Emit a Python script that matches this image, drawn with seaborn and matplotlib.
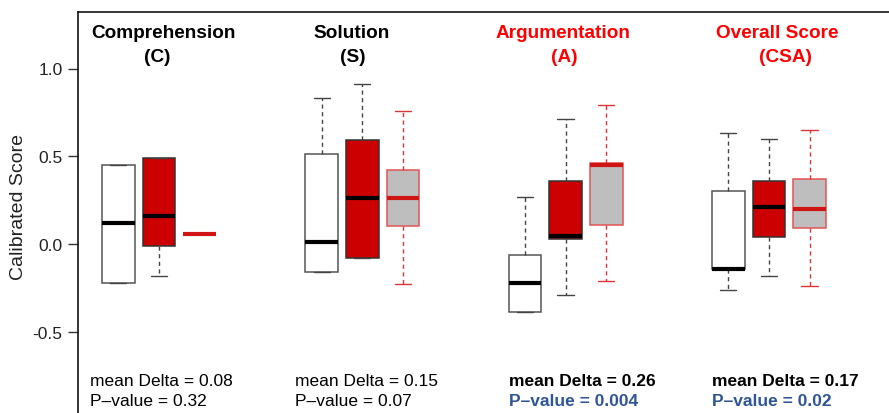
import matplotlib
matplotlib.use("Agg")
import pandas as pd
import matplotlib.pyplot as plt
import seaborn as sns

# categories and box levels
groups = ["Comprehension", "Solution", "Argumentation", "Overall Score"]
levels = ["first", "second", "third"]

# five-number summaries: min, q1, median, q3, max
comp_first = [-0.22, -0.22, 0.12, 0.45, 0.45]
comp_second = [-0.18, -0.01, 0.16, 0.49, 0.49]
comp_third = [0.057, 0.057, 0.057, 0.057, 0.057]
sol_first = [-0.16, -0.16, 0.01, 0.51, 0.83]
sol_second = [-0.08, -0.08, 0.26, 0.59, 0.91]
sol_third = [-0.23, 0.10, 0.26, 0.42, 0.76]
arg_first = [-0.39, -0.39, -0.22, -0.06, 0.27]
arg_second = [-0.29, 0.03, 0.045, 0.36, 0.71]
arg_third = [-0.21, 0.11, 0.45, 0.46, 0.79]
csa_first = [-0.26, -0.14, -0.14, 0.30, 0.63]
csa_second = [-0.18, 0.04, 0.21, 0.36, 0.60]
csa_third = [-0.24, 0.09, 0.20, 0.37, 0.65]

titles = ["Comprehension", "Solution", "Argumentation", "Overall Score"]
subtitles = ["(C)", "(S)", "(A)", "(CSA)"]
deltas = ["0.08", "0.15", "0.26", "0.17"]
pvalues = ["0.32", "0.07", "0.004", "0.02"]
significant = [False, False, True, True]

series = {
    "Comprehension": [comp_first, comp_second, comp_third],
    "Solution": [sol_first, sol_second, sol_third],
    "Argumentation": [arg_first, arg_second, arg_third],
    "Overall Score": [csa_first, csa_second, csa_third],
}
rows = []
for g in groups:
    for lev, vals in zip(levels, series[g]):
        for v in vals:
            rows.append({"group": g, "level": lev, "score": v})
df = pd.DataFrame(rows)

sns.set_theme(style="ticks")
plt.rcParams["font.family"] = ["Liberation Sans", "DejaVu Sans"]
plt.rcParams["axes.unicode_minus"] = False

W, H = 889, 414
fig = plt.figure(figsize=(W / 100, H / 100), dpi=100)
top_px, bot_px, left_px, right_px = 12.7, 440, 78, 910
ax = fig.add_axes([left_px / W, 1 - bot_px / H, (right_px - left_px) / W, (bot_px - top_px) / H])

styles = {
    "first": dict(fill="white", edge="#555555", median="black", whisk="#444444"),
    "second": dict(fill="#CC0000", edge="#333333", median="black", whisk="#444444"),
    "third": dict(fill="#BEBEBE", edge="#E25555", median="#D01515", whisk="#E03535"),
}
palette = {lev: styles[lev]["fill"] for lev in levels}

# one call per level so each gets its own line styling, dodged on the full hue order
for lev in levels:
    st = styles[lev]
    sns.boxplot(data=df[df["level"] == lev], x="group", y="score", hue="level",
                order=groups, hue_order=levels, palette=palette, saturation=1,
                dodge=True, width=0.6, gap=0.2, whis=(0, 100), linecolor=st["edge"],
                linewidth=1.1, legend=False, ax=ax,
                medianprops=dict(color=st["median"], linewidth=3),
                whiskerprops=dict(color=st["whisk"], linestyle=(0, (3, 2.5)), linewidth=1.0),
                capprops=dict(color=st["whisk"], linewidth=1.0))

y0_px = 245.0
unit_px = 175.5
ax.set_ylim((y0_px - bot_px) / unit_px, (y0_px - top_px) / unit_px)
ax.set_xlim((left_px - 159) / 203.3, (right_px - 159) / 203.3)
ax.set_yticks([-0.5, 0.0, 0.5, 1.0])
ax.set_yticklabels(["-0.5", "0.0", "0.5", "1.0"])
ax.set_xticks([])
ax.set_xlabel("")
ax.set_ylabel("")
ax.tick_params(axis="y", length=7, width=1, color="#333333", labelsize=12.5, pad=4, labelcolor="#222222")
for side in ["bottom", "right"]:
    ax.spines[side].set_visible(False)
for side in ["left", "top"]:
    ax.spines[side].set_color("black")
    ax.spines[side].set_linewidth(1.1)

fig.text(19 / W, 1 - 207 / H, "Calibrated Score", rotation=90, ha="center", va="center",
         fontsize=14, color="#222222")

title_x = [163, 352, 563, 777]
sub_x = [157, 353, 564, 785]
text_x = [90, 295, 509, 712]
for i in range(len(groups)):
    tcol = "#FF0000" if significant[i] else "black"
    fig.text(title_x[i] / W, 1 - 37.5 / H, titles[i], ha="center", va="baseline",
             fontsize=13.7, fontweight="bold", color=tcol)
    fig.text(sub_x[i] / W, 1 - 61.5 / H, subtitles[i], ha="center", va="baseline",
             fontsize=13.7, fontweight="bold", color=tcol)
    weight = "bold" if significant[i] else "normal"
    pcol = "#2F5597" if significant[i] else "black"
    fig.text(text_x[i] / W, 1 - 386.5 / H, f"mean Delta = {deltas[i]}", ha="left", va="baseline",
             fontsize=12.5, fontweight=weight, color="black")
    fig.text(text_x[i] / W, 1 - 406 / H, f"P\u2013value = {pvalues[i]}", ha="left", va="baseline",
             fontsize=12.5, fontweight=weight, color=pcol)

fig.savefig("out.png", dpi=100)
